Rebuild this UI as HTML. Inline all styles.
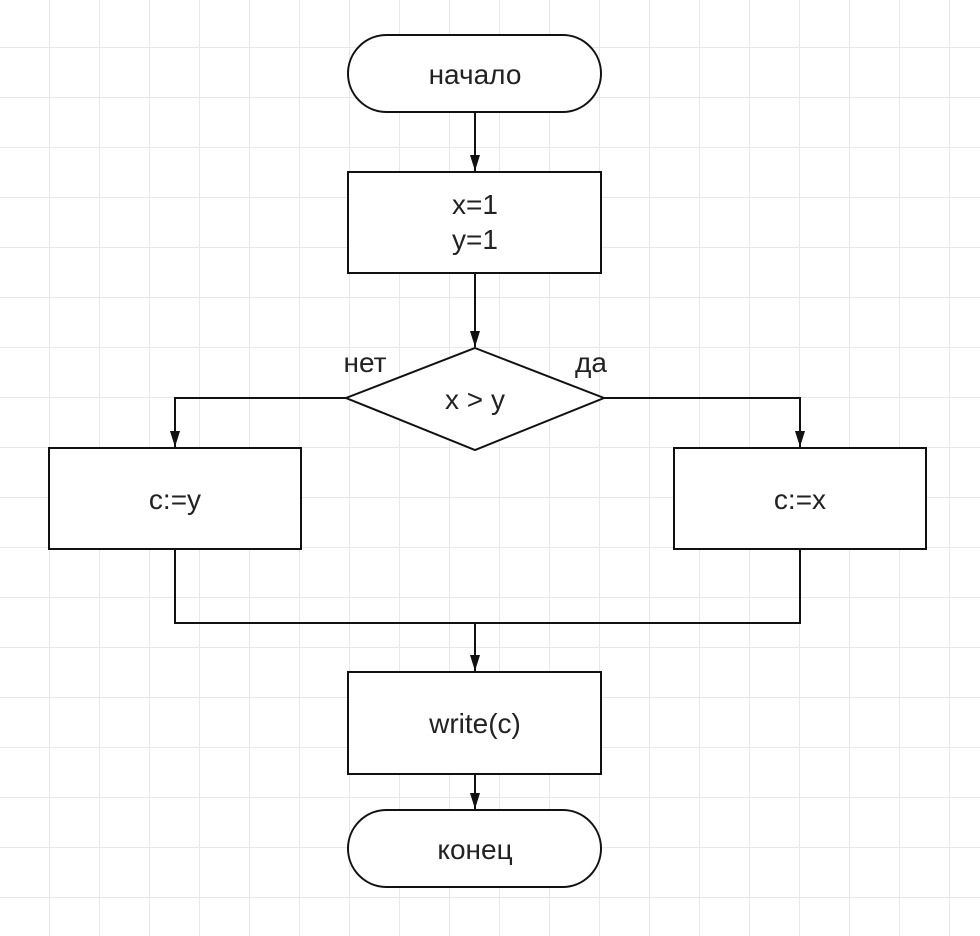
<!DOCTYPE html>
<html><head><meta charset="utf-8"><style>html,body{margin:0;padding:0;background:#fff}svg{display:block}</style></head>
<body>
<svg width="980" height="936" xmlns="http://www.w3.org/2000/svg">
<defs>
<pattern id="g" width="50" height="50" patternUnits="userSpaceOnUse" x="0" y="-2">
<rect width="50" height="50" fill="#fff"/>
<path d="M50 0V50M0 50H50" stroke="#e8e8e8" stroke-width="2" fill="none"/>
</pattern>
<marker id="a" markerWidth="16" markerHeight="10" refX="16" refY="5" orient="auto" markerUnits="userSpaceOnUse" viewBox="0 0 16 10">
<path d="M0 0L16 5L0 10Z" fill="#111"/>
</marker>
</defs>
<rect width="980" height="936" fill="url(#g)"/>
<g stroke="#111" stroke-width="2" fill="#fff">
<rect x="348" y="35" width="253" height="77" rx="38.5"/>
<rect x="348" y="172" width="253" height="101"/>
<polygon points="475,348 604,398 475,450 346,398"/>
<rect x="49" y="448" width="252" height="101"/>
<rect x="674" y="448" width="252" height="101"/>
<rect x="348" y="672" width="253" height="102"/>
<rect x="348" y="810" width="253" height="77" rx="38.5"/>
</g>
<g stroke="#111" stroke-width="2" fill="none">
<line x1="475" y1="112" x2="475" y2="171" marker-end="url(#a)"/>
<line x1="475" y1="273" x2="475" y2="347" marker-end="url(#a)"/>
<polyline points="346,398 175,398 175,447" marker-end="url(#a)"/>
<polyline points="604,398 800,398 800,447" marker-end="url(#a)"/>
<polyline points="175,549 175,623 800,623 800,549"/>
<line x1="475" y1="623" x2="475" y2="671" marker-end="url(#a)"/>
<line x1="475" y1="774" x2="475" y2="809" marker-end="url(#a)"/>
</g>
<g font-family="Liberation Sans, DejaVu Sans, sans-serif" font-size="28" fill="#222" text-anchor="middle">
<text x="475" y="84">начало</text>
<text x="475" y="214">x=1</text>
<text x="475" y="249">y=1</text>
<text x="475" y="409">x &gt; y</text>
<text x="365" y="372">нет</text>
<text x="591" y="372">да</text>
<text x="175" y="509">c:=y</text>
<text x="800" y="509">c:=x</text>
<text x="475" y="733">write(c)</text>
<text x="475" y="859">конец</text>
</g>
</svg>
</body></html>
